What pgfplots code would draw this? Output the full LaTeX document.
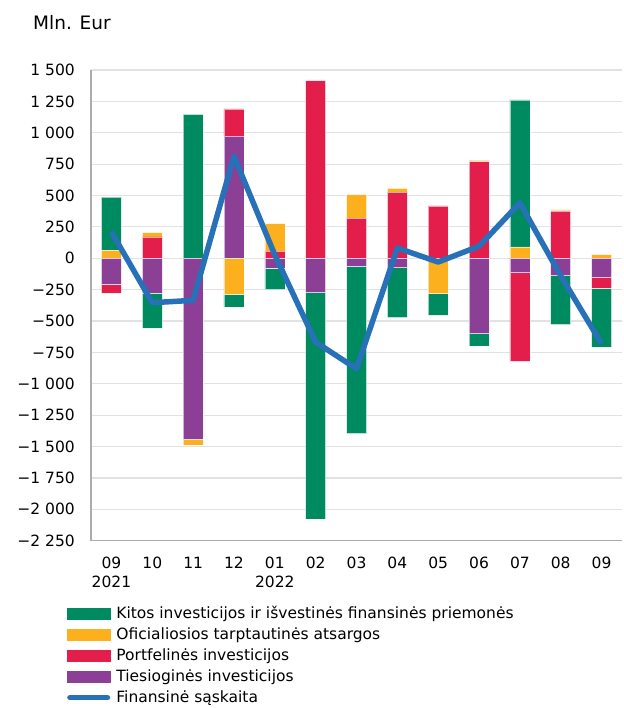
\documentclass[border=0pt]{standalone}
\usepackage{fontspec}
\setmainfont{DejaVu Sans}
\usepackage{pgfplots}
\pgfplotsset{compat=1.18}
\usepackage{pgfplotstable}

\definecolor{cgreen}{RGB}{0,138,95}
\definecolor{cyellow}{RGB}{253,176,30}
\definecolor{cred}{RGB}{228,30,74}
\definecolor{cpurple}{RGB}{139,64,150}
\definecolor{cblue}{RGB}{39,113,185}
\definecolor{cgrid}{RGB}{226,226,226}
\definecolor{caxis}{RGB}{172,172,172}

% positive parts: p = Tiesiogines, r = Portfelines, y = Oficialiosios, g = Kitos
\pgfplotstableread{
x p r y g
0 0 0 61 426
1 0 170 35 0
2 0 0 0 1147
3 976 215 0 0
4 0 56 221 0
5 0 1415 0 0
6 0 319 189 0
7 0 527 29 0
8 0 418 0 0
9 0 769 13 0
10 0 0 90 1171
11 0 375 11 0
12 0 0 29 0
}\pos

% negative parts
\pgfplotstableread{
x p r y g
0 -205 -72 0 0
1 -277 0 0 -279
2 -1442 0 -45 0
3 0 0 -287 -102
4 -77 0 0 -173
5 -274 0 0 -1803
6 -64 0 0 -1333
7 -74 0 0 -399
8 0 0 -282 -173
9 -601 0 0 -96
10 -114 -708 0 0
11 -138 0 0 -391
12 -154 -83 0 -471
}\neg

% Finansine saskaita
\pgfplotstableread{
x v
0 210
1 -354
2 -335
3 814
4 27
5 -668
6 -880
7 82
8 -30
9 96
10 441
11 -140
12 -681
}\fin

\pgfplotsset{
  common/.style={
    scale only axis, width=531pt, height=470.7pt,
    at={(91pt,167.3pt)}, anchor=south west,
    xmin=-0.5, xmax=12.5, ymin=-2250, ymax=1500,
  },
  seg/.style={fill=#1, draw=white, draw opacity=0.6, line width=0.5pt},
}

\begin{document}
\begin{tikzpicture}
\path[use as bounding box] (0,0) rectangle (623pt,708pt);
\node[anchor=base west, font=\fontsize{18.5}{22}\selectfont, inner sep=0pt] at (33pt,678pt) {Mln. Eur};

% axis with grid, labels, positive stacks and legend
\begin{axis}[common,
  ybar stacked, bar width=20pt,
  axis x line*=bottom, axis y line*=left,
  axis line style={caxis, line width=1.4pt, -},
  ymajorgrids, grid style={cgrid, line width=1.2pt},
  ytick={-2250,-2000,-1750,-1500,-1250,-1000,-750,-500,-250,0,250,500,750,1000,1250,1500},
  yticklabels={{−2~250},{−2~000},{−1~750},{−1~500},{−1~250},{−1~000},{−750},{−500},{−250},0,250,500,750,{1~000},{1~250},{1~500}},
  xtick={0,1,2,3,4,5,6,7,8,9,10,11,12},
  xticklabels={{09\\2021},10,11,12,{01\\2022},02,03,04,05,06,07,08,09},
  major tick length=0pt,
  tick label style={font=\fontsize{15.5}{19}\selectfont},
  yticklabel style={anchor=east, inner sep=0pt, xshift=-16pt},
  xticklabel style={align=center, anchor=north, inner sep=0pt, yshift=-16pt},
  legend cell align=left,
  legend style={at={(-0.0452,-0.1419)}, anchor=north west, draw=none, fill=none,
    inner sep=0pt, outer sep=0pt, row sep=6pt, column sep=6pt,
    font=\fontsize{15.5}{19}\selectfont,
    nodes={inner sep=0pt, text height=11.5pt, text depth=3.5pt}},
]
\addlegendimage{legend image code/.code={\fill[cgreen] (0pt,-4pt) rectangle (43pt,6.7pt);}}
\addlegendentry{Kitos investicijos ir išvestinės finansinės priemonės}
\addlegendimage{legend image code/.code={\fill[cyellow] (0pt,-4pt) rectangle (43pt,6.7pt);}}
\addlegendentry{Oficialiosios tarptautinės atsargos}
\addlegendimage{legend image code/.code={\fill[cred] (0pt,-4pt) rectangle (43pt,6.7pt);}}
\addlegendentry{Portfelinės investicijos}
\addlegendimage{legend image code/.code={\fill[cpurple] (0pt,-4pt) rectangle (43pt,6.7pt);}}
\addlegendentry{Tiesioginės investicijos}
\addlegendimage{legend image code/.code={\draw[cblue, line width=5.5pt, line cap=round] (2.75pt,1.3pt) -- (40.25pt,1.3pt);}}
\addlegendentry{Finansinė sąskaita}
\addplot[seg=cpurple] table[x=x, y=p] {\pos};
\addplot[seg=cred] table[x=x, y=r] {\pos};
\addplot[seg=cyellow] table[x=x, y=y] {\pos};
\addplot[seg=cgreen] table[x=x, y=g] {\pos};
\end{axis}

% negative stacks
\begin{axis}[common, hide axis, ybar stacked, bar width=20pt]
\addplot[seg=cpurple] table[x=x, y=p] {\neg};
\addplot[seg=cred] table[x=x, y=r] {\neg};
\addplot[seg=cyellow] table[x=x, y=y] {\neg};
\addplot[seg=cgreen] table[x=x, y=g] {\neg};
\end{axis}

% line
\begin{axis}[common, hide axis]
\addplot[cblue, line width=5.5pt, line join=round, no markers] table[x=x, y=v] {\fin};
\end{axis}
\end{tikzpicture}
\end{document}
